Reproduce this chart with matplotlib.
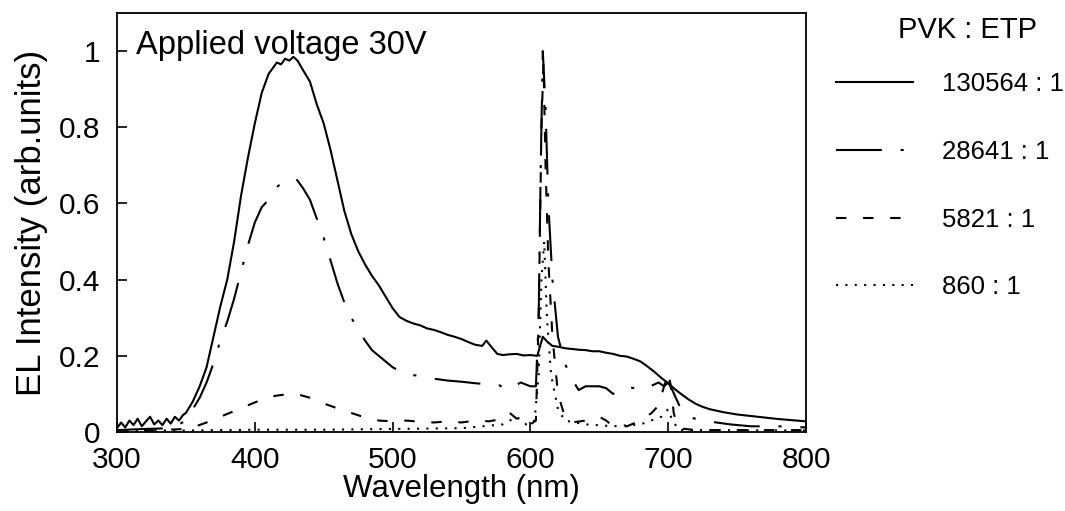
import matplotlib
matplotlib.use("Agg")
import matplotlib.pyplot as plt
from matplotlib.ticker import FixedLocator, FixedFormatter

plt.rcParams['font.family'] = ['Liberation Sans', 'DejaVu Sans']

# ---- data ----
wl_130564 = [300, 303, 306, 309, 312, 315, 318, 321, 324, 327, 330, 333, 336, 339, 342, 345, 348,
             350, 355, 360, 365, 370, 375, 380, 385, 390, 395, 400, 405, 410, 413, 416, 419, 422, 425,
             428, 431, 435, 440, 445, 450, 455, 460, 465, 470, 475, 480, 485, 490, 495, 500, 505,
             510, 515, 520, 525, 530, 535, 540, 545, 550, 555, 560, 565, 568, 572, 576, 580, 585,
             590, 595, 600, 605, 607, 609, 612, 616, 620, 625, 630, 635, 640, 645, 650, 655, 660,
             665, 670, 675, 680, 685, 690, 695, 700, 705, 710, 715, 720, 725, 730, 740, 750, 760,
             770, 780, 790, 800]
int_130564 = [0.010, 0.025, 0.012, 0.030, 0.018, 0.035, 0.015, 0.028, 0.040, 0.020, 0.030, 0.018,
              0.035, 0.022, 0.040, 0.030, 0.045,
              0.050, 0.080, 0.120, 0.170, 0.250, 0.330, 0.400, 0.500, 0.620, 0.720, 0.810, 0.890,
              0.940, 0.955, 0.970, 0.965, 0.980, 0.975, 0.985, 0.975, 0.950, 0.920, 0.860, 0.810,
              0.740, 0.660, 0.580, 0.520, 0.475, 0.440, 0.410, 0.385, 0.355, 0.325, 0.302,
              0.292, 0.285, 0.280, 0.272, 0.268, 0.262, 0.255, 0.250, 0.244, 0.236, 0.229, 0.226,
              0.240, 0.222, 0.205, 0.202, 0.204, 0.205, 0.201, 0.202, 0.200, 0.225, 0.250, 0.238,
              0.226, 0.224, 0.220, 0.218, 0.216, 0.215, 0.212, 0.212, 0.208, 0.205, 0.200, 0.198,
              0.192, 0.185, 0.172, 0.158, 0.142, 0.128, 0.112, 0.098, 0.085, 0.074, 0.066, 0.060,
              0.052, 0.046, 0.042, 0.038, 0.034, 0.031, 0.028]

wl_28641 = [300, 320, 340, 350, 355, 360, 365, 370, 375, 380, 385, 390, 395, 400, 405, 410, 415,
            420, 425, 430, 435, 440, 445, 450, 455, 460, 465, 470, 475, 480, 485, 490, 495, 500,
            505, 510, 520, 530, 540, 550, 560, 570, 577, 583, 588, 593, 600, 604, 606, 607.5, 609,
            611, 613, 616, 620, 625, 630, 635, 640, 650, 655, 660, 665, 670, 680, 687, 693, 697,
            700, 703, 708, 714, 725, 735, 745, 760, 780, 800]
int_28641 = [0.005, 0.008, 0.010, 0.030, 0.060, 0.090, 0.130, 0.180, 0.240, 0.290, 0.350, 0.420,
             0.490, 0.550, 0.590, 0.610, 0.640, 0.655, 0.660, 0.665, 0.640, 0.610, 0.560, 0.510,
             0.450, 0.390, 0.340, 0.300, 0.270, 0.240, 0.215, 0.200, 0.185, 0.170, 0.160, 0.150,
             0.148, 0.140, 0.135, 0.132, 0.128, 0.125, 0.124, 0.110, 0.120, 0.130, 0.120, 0.120,
             0.300, 0.700, 1.000, 0.850, 0.600, 0.400, 0.250, 0.180, 0.140, 0.110, 0.120, 0.120,
             0.115, 0.100, 0.110, 0.120, 0.110, 0.120, 0.130, 0.120, 0.130, 0.110, 0.070, 0.040,
             0.030, 0.025, 0.020, 0.015, 0.015, 0.012]

wl_5821 = [300, 330, 350, 355, 365, 375, 385, 395, 405, 415, 425, 430, 440, 450, 460, 470, 480,
           490, 500, 510, 520, 530, 540, 550, 560, 570, 580, 585, 590, 595, 600, 604, 606, 608,
           609.5, 611, 613, 616, 620, 625, 630, 640, 650, 655, 660, 670, 680, 688, 693, 697, 700,
           702, 704, 707, 720, 800]
int_5821 = [0.000, 0.005, 0.008, 0.012, 0.025, 0.040, 0.055, 0.070, 0.085, 0.095, 0.100, 0.100,
            0.090, 0.075, 0.062, 0.050, 0.038, 0.030, 0.028, 0.030, 0.027, 0.025, 0.028, 0.025,
            0.030, 0.028, 0.035, 0.050, 0.035, 0.040, 0.020, 0.030, 0.300, 0.800, 0.970, 0.700,
            0.450, 0.250, 0.100, 0.040, 0.025, 0.030, 0.040, 0.030, 0.015, 0.015, 0.030, 0.050,
            0.070, 0.120, 0.155, 0.120, 0.050, 0.010, 0.005, 0.005]

wl_860 = [300, 350, 400, 450, 500, 550, 580, 590, 597, 603, 606, 608, 610, 612, 615, 620, 625,
          640, 660, 680, 695, 700, 703, 708, 800]
int_860 = [0.004, 0.004, 0.006, 0.006, 0.008, 0.010, 0.020, 0.040, 0.020, 0.030, 0.150, 0.400,
           0.500, 0.300, 0.150, 0.060, 0.030, 0.020, 0.015, 0.020, 0.040, 0.060, 0.030, 0.005,
           0.004]

legend_labels = ["130564 : 1", "28641 : 1", "5821 : 1", "860 : 1"]
legend_title = "PVK : ETP"
x_ticks = [300, 400, 500, 600, 700, 800]
y_ticks = [0, 0.2, 0.4, 0.6, 0.8, 1.0]
y_tick_labels = ["0", "0.2", "0.4", "0.6", "0.8", "1"]

# ---- figure ----
fig = plt.figure(figsize=(10.65, 5.11), dpi=100)
ax = fig.add_axes([117 / 1065, 1 - 432 / 511, (806 - 117) / 1065, (432 - 13) / 511])

lw = 1.5
l1, = ax.plot(wl_130564, int_130564, color='black', lw=lw, linestyle='-')
l2, = ax.plot(wl_28641, int_28641, color='black', lw=lw, linestyle=(0, (22, 9, 1.5, 9)))
l3, = ax.plot(wl_5821, int_5821, color='black', lw=lw, linestyle=(0, (5, 8)))
l4, = ax.plot(wl_860, int_860, color='black', lw=lw, linestyle=(0, (1, 3.5)))

ax.set_xlim(300, 800)
ax.set_ylim(0, 1.1)
ax.xaxis.set_major_locator(FixedLocator(x_ticks))
ax.yaxis.set_major_locator(FixedLocator(y_ticks))
ax.yaxis.set_major_formatter(FixedFormatter(y_tick_labels))
ax.tick_params(axis='both', direction='in', length=7, width=1.2, labelsize=21.5)
ax.tick_params(axis='y', pad=12)
ax.tick_params(axis='x', pad=10)
for sp in ax.spines.values():
    sp.set_linewidth(1.3)

ax.set_xlabel("Wavelength (nm)", fontsize=22.5, labelpad=0)
ax.set_ylabel("EL Intensity (arb.units)", fontsize=25, labelpad=8)

ax.text(0.028, 0.922, "Applied voltage 30V", transform=ax.transAxes, fontsize=23.5,
        ha='left', va='center')

fig.text(968 / 1065, 1 - 30 / 511, legend_title, fontsize=21, ha='center', va='center')
leg = ax.legend([l1, l2, l3, l4], legend_labels,
                loc='upper left', bbox_to_anchor=(826 / 1065, 1 - 62 / 511),
                bbox_transform=fig.transFigure, frameon=False, fontsize=18.5,
                handlelength=3.0, handletextpad=1.1,
                labelspacing=1.7, borderaxespad=0)

fig.savefig("out.png", dpi=100)
